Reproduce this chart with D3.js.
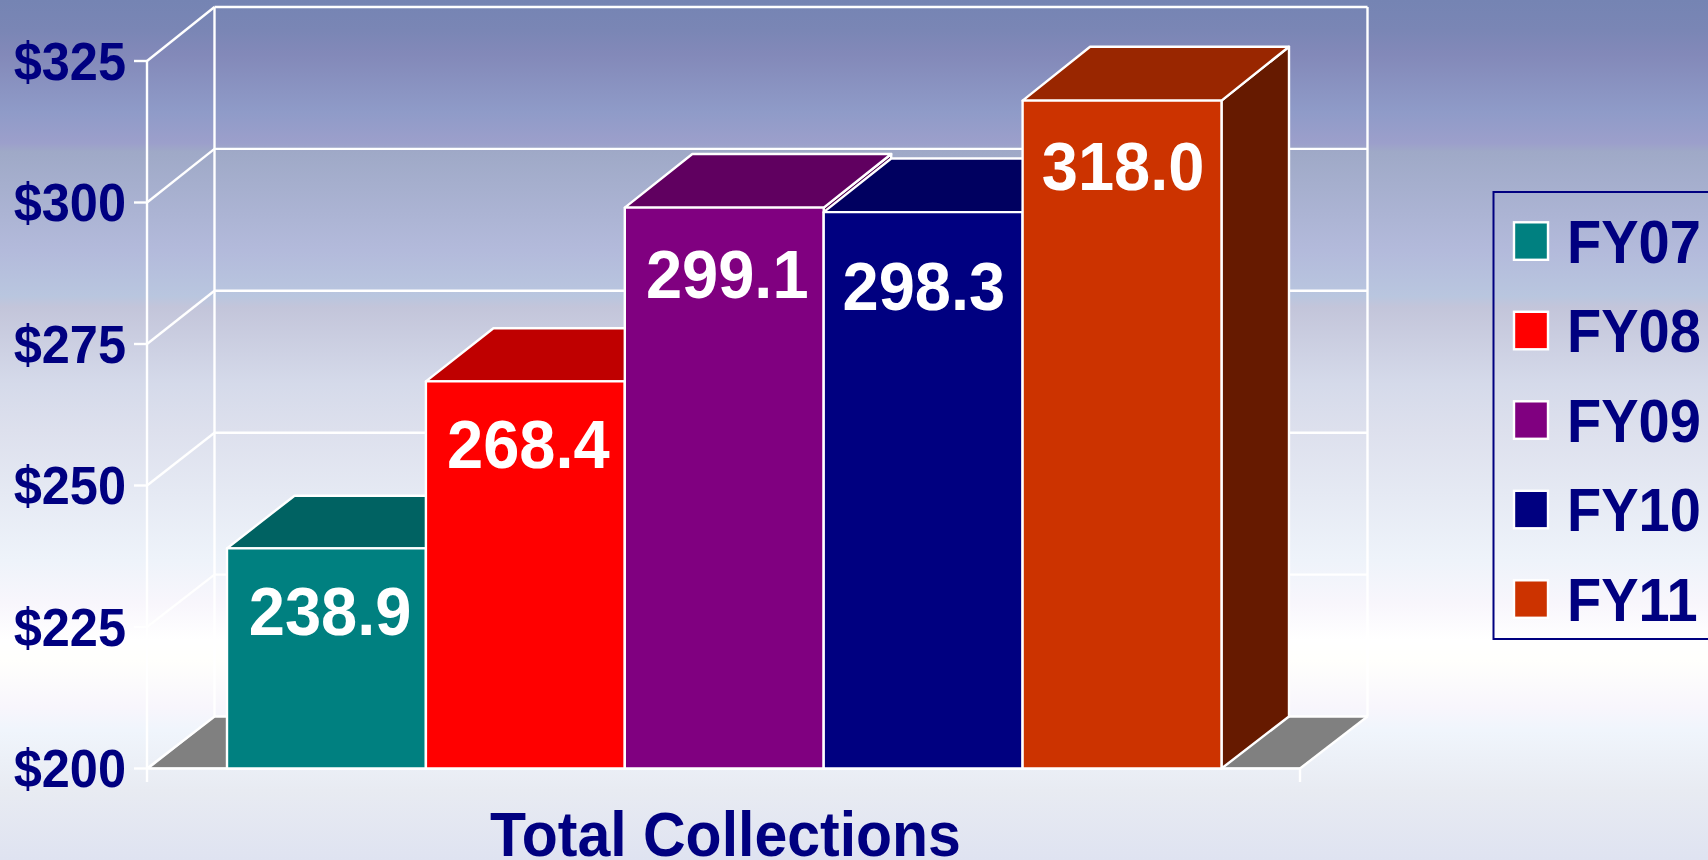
<!DOCTYPE html>
<html><head><meta charset="utf-8">
<script src="https://cdn.jsdelivr.net/npm/d3@7"></script>
<style>html,body{margin:0;padding:0;overflow:hidden;background:#fff}svg{display:block}text{font-family:"Liberation Sans",Arial,sans-serif;font-weight:bold}</style>
</head><body><svg id="c" width="1708" height="860"></svg>
<script>
const categories=["FY07","FY08","FY09","FY10","FY11"];
const values=[238.9,268.4,299.1,298.3,318.0];
const frontColors=["#008080","#ff0000","#800080","#000080","#cc3300"];
const topColors=["#006262","#bf0000","#600060","#000060","#992600"];
const sideColors=["#004d4d","#800000","#4d004d","#00004d","#661a00"];
const yTicks=[200,225,250,275,300,325];
const W=1708,H=860,dx=67.5;
const gradStops=[[0,"#7584b3"],[30,"#7a86b5"],[55,"#8389b9"],[112,"#8f9bc8"],[143,"#9c9fcb"],[152,"#9fa9c7"],[250,"#b3badb"],[296,"#b9c6df"],[307,"#c3c5da"],[384,"#d5daea"],[430,"#dde0ed"],[560,"#eef3fa"],[603,"#f8f6fc"],[640,"#ffffff"],[660,"#fffffc"],[707,"#f8f6fc"],[730,"#f0f5fc"],[790,"#e8ebf2"],[860,"#dfe3f1"]];
const svg=d3.select("#c");
const lg=svg.append("defs").append("linearGradient").attr("id","bg").attr("x1",0).attr("y1",0).attr("x2",0).attr("y2",1);
gradStops.forEach(s=>lg.append("stop").attr("offset",s[0]/H).attr("stop-color",s[1]));
svg.append("rect").attr("width",W).attr("height",H).attr("fill","url(#bg)");
const y=d3.scaleLinear().domain([200,325]).range([768.5,61]);
const yBack=d3.scaleLinear().domain([200,325]).range([716.5,7]);
const xAxis=d3.scaleLinear().domain([0,1]).range([147,1300]);
const x=d3.scaleBand().domain(categories).range([227,1221.5]);
const x0=xAxis(0),x1=xAxis(1),y0=y(200),yb0=yBack(200);
const stretched=(sel,px,py,sy)=>sel.attr("transform",`translate(${px},${py}) scale(1,${sy})`);
// floor
svg.append("path").attr("d",d3.line()([[x0+4,y0-1],[x0+dx+1,yb0],[x1+dx,yb0],[x1,y0-1]])+"Z").attr("fill","#808080");
// walls, gridlines
const wall=svg.append("g").attr("fill","none").attr("stroke","#fff").attr("stroke-width",2.4);
yTicks.forEach(t=>{
  wall.append("line").attr("x1",x0).attr("x2",x0+dx).attr("y1",y(t)).attr("y2",yBack(t));
  wall.append("line").attr("x1",x0+dx).attr("x2",x1+dx).attr("y1",yBack(t)).attr("y2",yBack(t));
  wall.append("line").attr("x1",x0-13).attr("x2",x0).attr("y1",y(t)).attr("y2",y(t));
});
wall.append("line").attr("x1",x0).attr("x2",x0).attr("y1",y(325)).attr("y2",782);
wall.append("line").attr("x1",x0+dx).attr("x2",x0+dx).attr("y1",yBack(325)).attr("y2",yb0);
wall.append("line").attr("x1",x1+dx).attr("x2",x1+dx).attr("y1",yBack(325)).attr("y2",yb0);
wall.append("line").attr("x1",x0).attr("x2",x1).attr("y1",y0).attr("y2",y0);
wall.append("line").attr("x1",x1).attr("x2",x1+dx).attr("y1",y0).attr("y2",yb0);
wall.append("line").attr("x1",x1).attr("x2",x1).attr("y1",y0).attr("y2",782);
// tick labels
yTicks.forEach(t=>{
  stretched(svg.append("text").attr("text-anchor","end").attr("font-size",50.5).attr("fill","#000080").text("$"+t),126,y(t)+18.5,1.07);
});
// bars
const poly=d3.line();
categories.forEach((c,i)=>{
  const v=values[i],l=x(c),r=l+x.bandwidth(),t=y(v),tb=yBack(v);
  const g=svg.append("g").attr("stroke","#fff").attr("stroke-width",2.4).attr("stroke-linejoin","round");
  g.append("path").attr("d",poly([[r,t],[r+dx,tb],[r+dx,yb0],[r,y0]])+"Z").attr("fill",sideColors[i]);
  g.append("path").attr("d",poly([[l,t],[l+dx,tb],[r+dx,tb],[r,t]])+"Z").attr("fill",topColors[i]);
  g.append("rect").attr("x",l).attr("y",t).attr("width",r-l).attr("height",y0-t).attr("fill",frontColors[i]);
});
// value labels (hand-placed in the reference, hence the small per-label nudges)
const labelNudgeX=[3.6,3,3,0.7,1],labelNudgeY=[86.7,87,90.5,98,89.5];
categories.forEach((c,i)=>{
  stretched(svg.append("text").attr("text-anchor","middle").attr("font-size",65).attr("fill","#fff").text(values[i].toFixed(1)),
    x(c)+x.bandwidth()/2+labelNudgeX[i],y(values[i])+labelNudgeY[i],1.05);
});
// title
stretched(svg.append("text").attr("text-anchor","middle").attr("font-size",59).attr("fill","#000080").text("Total Collections"),725.5,856,1.08);
// legend
svg.append("rect").attr("x",1493.5).attr("y",192).attr("width",260).attr("height",447).attr("fill","none").attr("stroke","#000080").attr("stroke-width",2);
const rowY=d3.scalePoint().domain(categories).range([241,599]);
categories.forEach((c,i)=>{
  svg.append("rect").attr("x",1514).attr("y",rowY(c)-18.7).attr("width",34).attr("height",37.5).attr("fill",frontColors[i]).attr("stroke","#fff").attr("stroke-width",2.4);
  stretched(svg.append("text").attr("font-size",56).attr("fill","#000080").text(c),1567,rowY(c)+21.5,1.08);
});
</script></body></html>
